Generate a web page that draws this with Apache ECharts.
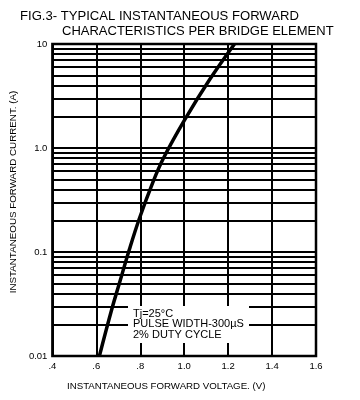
<!DOCTYPE html>
<html>
<head>
<meta charset="utf-8">
<script src="https://cdn.jsdelivr.net/npm/echarts@6/dist/echarts.min.js"></script>
<style>html,body{margin:0;padding:0;background:#fff}#c{width:360px;height:400px}</style>
</head>
<body>
<div id="c"></div>
<script>
var voltage = [0.614, 0.670, 0.705, 0.750, 0.796, 0.856, 0.906, 1.002, 1.1145, 1.229];
var current = [0.01, 0.028, 0.05, 0.105, 0.21, 0.46, 0.80, 1.86, 4.5, 10];
var xTickLabels = {'0.4': '.4', '0.6': '.6', '0.8': '.8', '1': '1.0', '1.2': '1.2', '1.4': '1.4', '1.6': '1.6'};
var yTickLabels = {'0.01': '0.01', '0.1': '0.1', '1': '1.0', '10': '10'};
var minorGrid = [0.02,0.03,0.04,0.05,0.06,0.07,0.08,0.09,0.2,0.3,0.4,0.5,0.6,0.7,0.8,0.9,2,3,4,5,6,7,8,9];
var titleLines = ['FIG.3- TYPICAL INSTANTANEOUS FORWARD', 'CHARACTERISTICS PER BRIDGE ELEMENT'];
var noteLines = ['Tj=25\u00B0C', 'PULSE WIDTH-300\u00B5S', '2% DUTY CYCLE'];

var font = 'Liberation Sans, Arial, sans-serif';
var chart = echarts.init(document.getElementById('c'), null, {renderer: 'canvas'});
chart.setOption({
  animation: false,
  backgroundColor: '#fff',
  title: [
    {text: titleLines[0], left: 20, top: 10, padding: 0, textStyle: {fontFamily: font, fontSize: 13.1, fontWeight: 'normal', color: '#000'}},
    {text: titleLines[1], left: 62, top: 25, padding: 0, textStyle: {fontFamily: font, fontSize: 13, fontWeight: 'normal', color: '#000'}}
  ],
  grid: {left: 52, right: 44, top: 44, bottom: 44, show: true, borderColor: '#000', borderWidth: 2.5, backgroundColor: 'transparent'},
  xAxis: {
    type: 'value', min: 0.4, max: 1.6, interval: 0.2,
    axisLine: {show: false}, axisTick: {show: false},
    splitLine: {show: true, lineStyle: {color: '#000', width: 2}},
    axisLabel: {fontFamily: font, fontSize: 9.5, color: '#000', margin: 5,
      formatter: function (v) { var k = String(Math.round(v * 10) / 10); return xTickLabels[k] || ''; }},
    name: 'INSTANTANEOUS FORWARD VOLTAGE. (V)', nameLocation: 'middle', nameGap: 25,
    nameTextStyle: {fontFamily: font, fontSize: 9.7, color: '#000', padding: [0, 36, 0, 0]}
  },
  yAxis: {
    type: 'log', logBase: 10, min: 0.01, max: 10,
    axisLine: {show: false}, axisTick: {show: false},
    splitLine: {show: true, lineStyle: {color: '#000', width: 2}},
    axisLabel: {fontFamily: font, fontSize: 9.5, color: '#000', margin: 5,
      formatter: function (v) { return yTickLabels[String(v)] || String(v); }},
    name: 'INSTANTANEOUS FORWARD CURRENT. (A)', nameLocation: 'middle', nameGap: 30, nameRotate: 90,
    nameTextStyle: {fontFamily: font, fontSize: 9.8, color: '#000', padding: [0, 0, 0, 16]}
  },
  series: [{
    type: 'line', smooth: 0.4, symbol: 'none',
    data: voltage.map(function (v, i) { return [v, current[i]]; }),
    lineStyle: {color: '#000', width: 3.5},
    markLine: {
      silent: true, symbol: 'none', label: {show: false},
      lineStyle: {color: '#000', width: 1.8, type: 'solid'},
      data: minorGrid.map(function (g) { return {yAxis: g}; })
    },
    z: 5
  }],
  graphic: [{
    type: 'rect', left: 128, top: 306, shape: {width: 121, height: 37}, style: {fill: '#fff'}, z: 10
  }, {
    type: 'text', left: 133, top: 308, z: 11,
    style: {text: noteLines.join('\n'), fontFamily: font, fontSize: 11, lineHeight: 10.8, fill: '#000'}
  }]
});
</script>
</body>
</html>
